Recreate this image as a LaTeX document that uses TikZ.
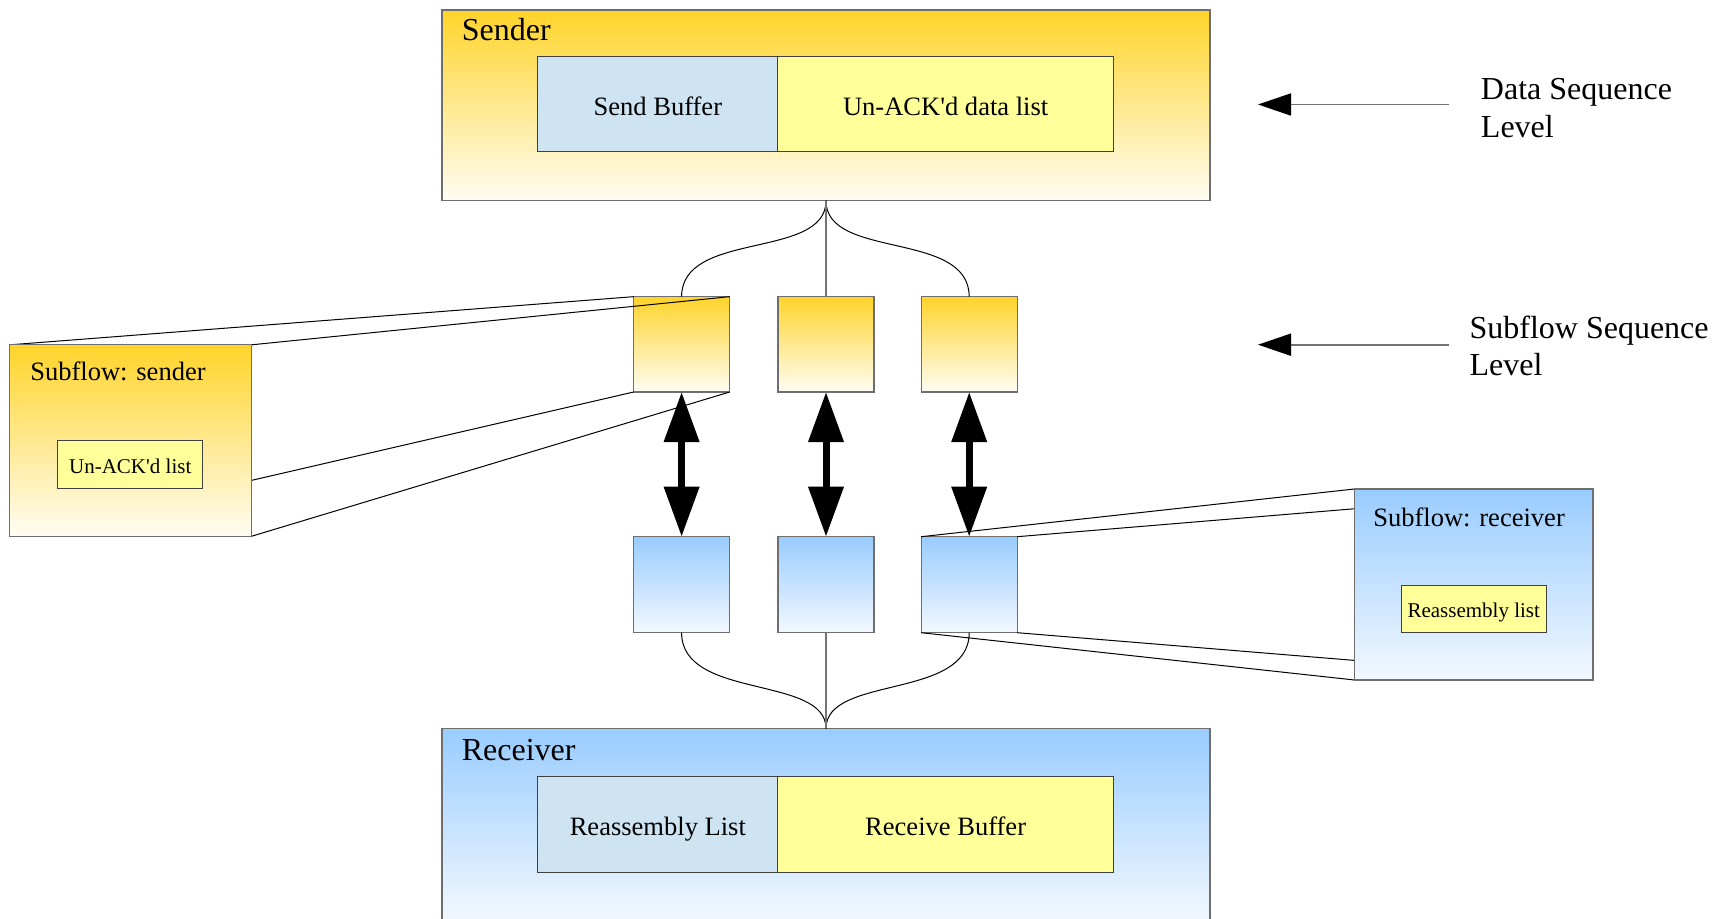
\documentclass[tikz,border=0pt]{standalone}
\usepackage{fontspec}
\setmainfont{Liberation Serif}
\usetikzlibrary{arrows.meta}
\pgfdeclarelayer{front}
\pgfsetlayers{main,front}
\definecolor{gold}{RGB}{255,212,42}
\definecolor{goldlow}{RGB}{255,253,244}
\definecolor{sky}{RGB}{153,204,255}
\definecolor{skylow}{RGB}{242,248,255}
\definecolor{pale}{RGB}{207,228,242}
\definecolor{lemon}{RGB}{255,255,153}
\definecolor{bord}{RGB}{110,110,110}
\newcommand\fbig{\fontsize{24}{28}\selectfont}
\newcommand\fmid{\fontsize{19.9}{24}\selectfont}
\newcommand\fsml{\fontsize{15.75}{19}\selectfont}
\begin{document}
\begin{tikzpicture}[x=0.75pt,y=-0.75pt,
  box/.style={draw=bord, line width=0.9pt, inner sep=0pt, outer sep=0pt},
  goldbox/.style={box, top color=gold, bottom color=goldlow},
  bluebox/.style={box, top color=sky, bottom color=skylow},
  cell/.style={draw=black!75, line width=0.75pt, inner sep=0pt, outer sep=0pt, text height=16.9pt, text depth=0.4pt},
  cellblue/.style={cell, fill=pale, font=\fmid},
  cellyellow/.style={cell, fill=lemon, font=\fmid},
  smallcell/.style={cellyellow, font=\fsml, text height=13.4pt, text depth=0.3pt},
  title/.style={anchor=base west, inner sep=0pt},
  proj/.style={draw=black, line width=0.75pt},
  link/.style={draw=black, line width=0.75pt},
  dbl/.style={line width=5.25pt, {Triangle[length=37.5pt,width=25.5pt]}-{Triangle[length=37.5pt,width=25.5pt]}},
  level/.style={draw=black!55, line width=1.4pt, -{Triangle[length=24.75pt,width=16.5pt,color=black]}}
]
\useasboundingbox (0,0) rectangle (1725,919);

% Sender
\node[goldbox, minimum width=576pt, minimum height=143pt] (sender) at (826,105.35) {};
\node[title, font=\fbig] (sendertitle) at (461.6,40.7) {Sender};
\node[cellblue, minimum width=179.9pt, minimum height=71.25pt] (sbuf) at (657.85,104.5) {Send Buffer};
\node[cellyellow, minimum width=251.8pt, minimum height=71.25pt] (unack) at (945.65,104.5) {Un-ACK\textquotesingle d data list};

% Receiver
\node[bluebox, minimum width=576pt, minimum height=144.4pt] (receiver) at (826,824.75) {};
\node[title, font=\fbig] (receivertitle) at (461.6,760.7) {Receiver};
\node[cellblue, minimum width=179.9pt, minimum height=72pt] (rlist) at (657.85,824.65) {Reassembly List};
\node[cellyellow, minimum width=251.8pt, minimum height=72pt] (rbuf) at (945.65,824.65) {Receive Buffer};

% Subflow boxes
\node[goldbox, minimum width=72pt, minimum height=71.5pt] (s1) at (681.6,344.35) {};
\node[goldbox, minimum width=72pt, minimum height=71.5pt] (s2) at (826,344.35) {};
\node[goldbox, minimum width=72pt, minimum height=71.5pt] (s3) at (969.2,344.35) {};
\node[bluebox, minimum width=72pt, minimum height=72pt] (r1) at (681.6,584.7) {};
\node[bluebox, minimum width=72pt, minimum height=72pt] (r2) at (826,584.7) {};
\node[bluebox, minimum width=72pt, minimum height=72pt] (r3) at (969.2,584.7) {};

% Zoomed subflow boxes
\begin{pgfonlayer}{front}
\node[goldbox, minimum width=181.3pt, minimum height=143.6pt] (sfs) at (130.65,440.55) {};
\node[title, font=\fmid] (sfstitle) at (30,381) {Subflow: sender};
\node[smallcell, minimum width=109.1pt, minimum height=36pt] (sfslist) at (130.25,465) {Un-ACK\textquotesingle d list};
\node[bluebox, minimum width=178.8pt, minimum height=143.25pt] (sfr) at (1473.7,584.5) {};
\node[title, font=\fmid] (sfrtitle) at (1373,526.5) {Subflow: receiver};
\node[smallcell, minimum width=108.4pt, minimum height=35.6pt] (sfrlist) at (1473.75,608.75) {Reassembly list};
\end{pgfonlayer}

% projection lines
\draw[proj] (sfs.north west) -- (s1.north west);
\draw[proj] (sfs.north east) -- (s1.north east);
\draw[proj] (sfs.south west) -- (s1.south west);
\draw[proj] (sfs.south east) -- (s1.south east);
\draw[proj] (r3.north west) -- (sfr.north west);
\draw[proj] (r3.north east) -- (sfr.north east);
\draw[proj] (r3.south west) -- (sfr.south west);
\draw[proj] (r3.south east) -- (sfr.south east);

% fan-out links
\draw[link] (sender.south) .. controls +(0,59.3) and +(0,-66.7) .. (s1.north);
\draw[link] (sender.south) .. controls +(0,59.3) and +(0,-66.7) .. (s3.north);
\draw[draw=black!55, line width=0.9pt] (sender.south) -- (s2.north);
\draw[link] (r1.south) .. controls +(0,67.3) and +(0,-53.5) .. (receiver.north);
\draw[link] (r3.south) .. controls +(0,67.3) and +(0,-53.5) .. (receiver.north);
\draw[draw=black!55, line width=0.9pt] (r2.south) -- (receiver.north);

% double arrows
\draw[dbl] (s1.south) -- (r1.north);
\draw[dbl] (s2.south) -- (r2.north);
\draw[dbl] (s3.south) -- (r3.north);

% level indicators
\coordinate (dsend) at (1449,104.5);
\coordinate (dstip) at (1258,104.5);
\draw[level] (dsend) -- (dstip);
\node[anchor=north west, align=left, font=\fbig, inner sep=0pt] (dslabel) at (1480.7,78.3) {Data Sequence\\Level};
\coordinate (ssend) at (1449,344.7);
\coordinate (sstip) at (1258,344.7);
\draw[level] (ssend) -- (sstip);
\node[anchor=north west, align=left, font=\fbig, inner sep=0pt] (sslabel) at (1469.3,315.4) {Subflow Sequence\\Level};
\end{tikzpicture}
\end{document}
